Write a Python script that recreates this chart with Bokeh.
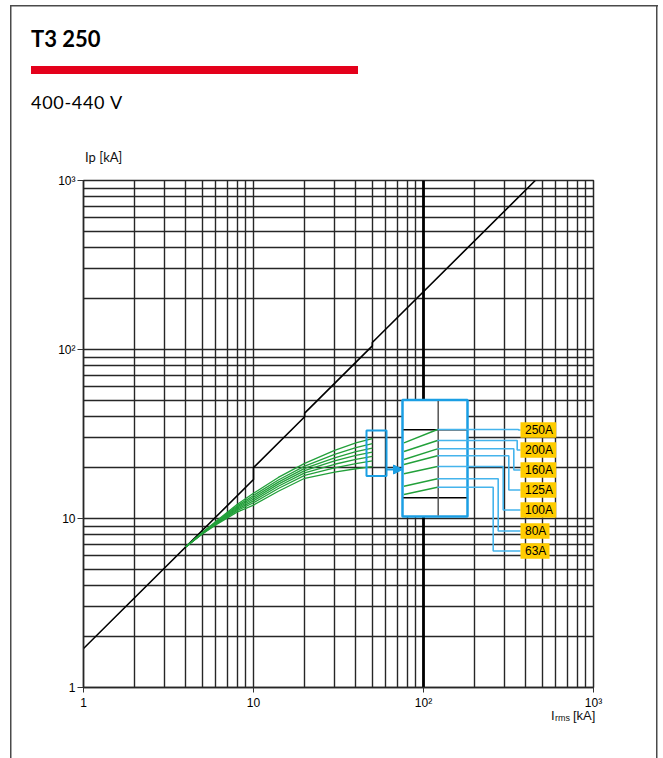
from bokeh.plotting import figure
from bokeh.models import FixedTicker, Span, Arrow, NormalHead, Div
from bokeh.layouts import column
from bokeh.core.properties import value
from bokeh.embed import file_html
from bokeh.resources import INLINE

# ---------------- data ----------------
title_text = "T3 250"
voltage_text = "400-440 V"
y_label = "Ip [kA]"
x_label_main, x_label_sub, x_label_unit = "I", "rms", "[kA]"

irms_ticks = [1, 10, 100, 1000]
irms_tick_labels = ["1", "10", "10²", "10³"]
ip_ticks = [1, 10, 100, 1000]
ip_tick_labels = ["1", "10", "10²", "10³"]
grid_values = [m * 10 ** e for e in range(3) for m in range(1, 10)] + [1000]

# peak-factor line: Ip = n * Irms (n steps at 10, 20, 50 kA)
peak_irms = [1, 10, 10, 20, 20, 50, 50, 454.5]
peak_ip = [1.7, 17, 20, 40, 42, 105, 110, 1000]

ratings = ["63A", "80A", "100A", "125A", "160A", "200A", "250A"]
curve_irms = [4, 5, 6, 8, 10, 14, 20, 30, 40, 50]
ip_63A = [6.8, 8.09, 9.17, 10.9, 12.0, 14.5, 17.3, 18.8, 19.7, 20.3]
ip_80A = [6.8, 8.13, 9.26, 11.13, 12.39, 15.05, 18.01, 19.95, 21.13, 21.9]
ip_100A = [6.8, 8.15, 9.32, 11.32, 12.72, 15.52, 18.62, 20.94, 22.38, 23.3]
ip_125A = [6.8, 8.18, 9.39, 11.50, 13.04, 15.97, 19.21, 21.91, 23.61, 24.7]
ip_160A = [6.8, 8.21, 9.45, 11.68, 13.35, 16.41, 19.78, 22.86, 24.84, 26.1]
ip_200A = [6.8, 8.24, 9.52, 11.87, 13.69, 16.90, 20.42, 23.95, 26.25, 27.7]
ip_250A = [6.8, 8.27, 9.60, 12.10, 14.10, 17.50, 21.20, 25.30, 28.00, 29.7]
curves = [ip_63A, ip_80A, ip_100A, ip_125A, ip_160A, ip_200A, ip_250A]

# ---------------- layout / styles ----------------
PAGE_W = 663
PAGE_H = 758
HEAD_H = 170          # header div height
FOOT_Y = 712          # page y where footer div starts
FL, FT, FW, FH = 83, 180, 510, 507   # frame on the page (px)
FB = FT + FH
GREEN = "#22a03a"
BLUE = "#1b9fe4"
LEADER = "#45b4ec"
GOLD = "#ffcc00"
GRID = "#262626"
RED = "#e4001b"


def X(px):  # page pixel -> data (log axis)
    return 10 ** (3 * (px - FL) / FW)


def Y(py):
    return 10 ** (3 * (FB - py) / FH)


p = figure(width=PAGE_W, height=FOOT_Y - HEAD_H, x_axis_type="log", y_axis_type="log",
           x_range=(1, 1000), y_range=(1, 1000), output_backend="svg",
           toolbar_location=None, min_border_left=FL, min_border_right=PAGE_W - FL - FW,
           min_border_top=FT - HEAD_H, min_border_bottom=FOOT_Y - FB, margin=0)
p.background_fill_color = "white"
p.border_fill_color = None
p.outline_line_color = GRID
p.outline_line_width = 1.5

for g in (p.xgrid, p.ygrid):
    g.ticker = FixedTicker(ticks=grid_values)
    g.grid_line_color = GRID
    g.grid_line_width = 1.4
    g.minor_grid_line_color = None

p.add_layout(Span(location=100, dimension="height", line_color="black",
                  line_width=2.8, level="underlay"))

for ax, ticks, labels in ((p.xaxis[0], irms_ticks, irms_tick_labels),
                          (p.yaxis[0], ip_ticks, ip_tick_labels)):
    ax.ticker = FixedTicker(ticks=ticks)
    ax.major_label_overrides = {t: l for t, l in zip(ticks, labels)}
    ax.minor_tick_line_color = None
    ax.major_tick_in = 0
    ax.major_tick_line_color = "#333333"
    ax.axis_line_color = GRID
    ax.axis_line_width = 1.4
    ax.major_label_text_font = "Liberation Sans"
    ax.major_label_text_font_size = "12px"
    ax.major_label_text_color = "black"
p.xaxis[0].major_tick_out = 5
p.xaxis[0].major_label_standoff = 3
p.yaxis[0].major_tick_out = 6
p.yaxis[0].major_label_standoff = 2

# peak line
p.line(peak_irms, peak_ip, line_color="black", line_width=1.6)

# let-through curves
for c in curves:
    p.line(curve_irms, c, line_color=GREEN, line_width=1.3)

# ---- zoom inset (schematic) ----
p.quad(left=X(366), right=X(386), top=Y(430), bottom=Y(475.5),
       fill_color=None, line_color=BLUE, line_width=2)
p.quad(left=X(402), right=X(467), top=Y(399.5), bottom=Y(516),
       fill_color="white", line_color=BLUE, line_width=2.5)
p.segment(x0=[X(403), X(403)], x1=[X(466), X(466)],
          y0=[Y(429.3), Y(497.3)], y1=[Y(429.3), Y(497.3)],
          line_color="black", line_width=1.5)
p.segment(x0=[X(437.7)], x1=[X(437.7)], y0=[Y(400.5)], y1=[Y(515)],
          line_color="#555555", line_width=1.5)

inset_left_y = [494, 485.7, 473.3, 464, 459, 451, 442.3]
inset_right_y = [486.7, 478.3, 466, 455.3, 448.3, 440, 429]
elbow_x = [492.7, 497.7, 502.7, 508.3, 513.3, 516.7, 518]
label_cy = [550.5, 530.5, 509.5, 489.5, 469.5, 449.5, 429.5]

p.segment(x0=[X(403.5)] * 7, x1=[X(437)] * 7,
          y0=[Y(v) for v in inset_left_y], y1=[Y(v) for v in inset_right_y],
          line_color=GREEN, line_width=1.4)

p.multi_line(xs=[[X(437), X(ex), X(ex), X(520)] for ex in elbow_x],
             ys=[[Y(yr), Y(yr), Y(cy), Y(cy)] for yr, cy in zip(inset_right_y, label_cy)],
             line_color=LEADER, line_width=1.6)

p.quad(left=[X(520)] * 7,
       right=[X(549) if len(r) == 3 else X(555.7) for r in ratings],
       top=[Y(cy - 7.8) for cy in label_cy],
       bottom=[Y(cy + 7.8) for cy in label_cy],
       fill_color=GOLD, line_color=None)
p.text(x=[X(524.5)] * 7, y=[Y(cy) for cy in label_cy], text=ratings,
       text_font=value("Liberation Sans"), text_font_size="12px",
       text_color="black", text_baseline="middle", text_align="left")

p.add_layout(Arrow(x_start=X(386), y_start=Y(469), x_end=X(402), y_end=Y(469),
                   line_color=BLUE, line_width=2,
                   end=NormalHead(size=9, fill_color=BLUE, line_color=BLUE)))

# ---------------- header / footer (HTML text) ----------------
header = Div(width=PAGE_W, height=HEAD_H, margin=0, text=f"""
<div style="position:relative;width:{PAGE_W}px;height:{HEAD_H}px;">
  <div style="position:absolute;left:31px;top:28px;font-family:Lato;font-weight:700;
       font-size:22px;line-height:1;color:#000;white-space:nowrap;">{title_text}</div>
  <div style="position:absolute;left:31px;top:66px;width:327px;height:8px;background:{RED};"></div>
  <div style="position:absolute;left:31px;top:93px;font-family:Lato;font-size:18px;
       letter-spacing:0.7px;line-height:1;color:#000;white-space:nowrap;">{voltage_text}</div>
  <div style="position:absolute;left:85px;top:150.5px;font-family:Lato;font-size:13px;
       line-height:1;color:#111;white-space:nowrap;">{y_label}</div>
</div>""")

lab_top = 709 - FOOT_Y
footer = Div(width=PAGE_W, height=PAGE_H - FOOT_Y, margin=0, text=f"""
<div style="position:relative;width:{PAGE_W}px;height:{PAGE_H - FOOT_Y}px;overflow:visible;
     font-family:'Liberation Sans';color:#111;line-height:1;white-space:nowrap;">
  <div style="position:absolute;left:551px;top:{lab_top}px;font-size:13px;">{x_label_main}</div>
  <div style="position:absolute;left:555px;top:{lab_top + 5}px;font-size:9px;">{x_label_sub}</div>
  <div style="position:absolute;left:573px;top:{lab_top}px;font-size:13px;">{x_label_unit}</div>
</div>""")

page_styles = {
    "background-color": "white",
    "background-image": ("linear-gradient(#4a4a4a,#4a4a4a),linear-gradient(#4a4a4a,#4a4a4a),"
                         "linear-gradient(#4a4a4a,#4a4a4a)"),
    "background-size": "1.5px 900px, 1.5px 900px, 648px 1.5px",
    "background-position": "9.5px 5px, 656px 5px, 9.5px 5px",
    "background-repeat": "no-repeat",
}
page = column(header, p, footer, spacing=0, margin=0, styles=page_styles)

open("out.html", "w").write(file_html(page, INLINE))
